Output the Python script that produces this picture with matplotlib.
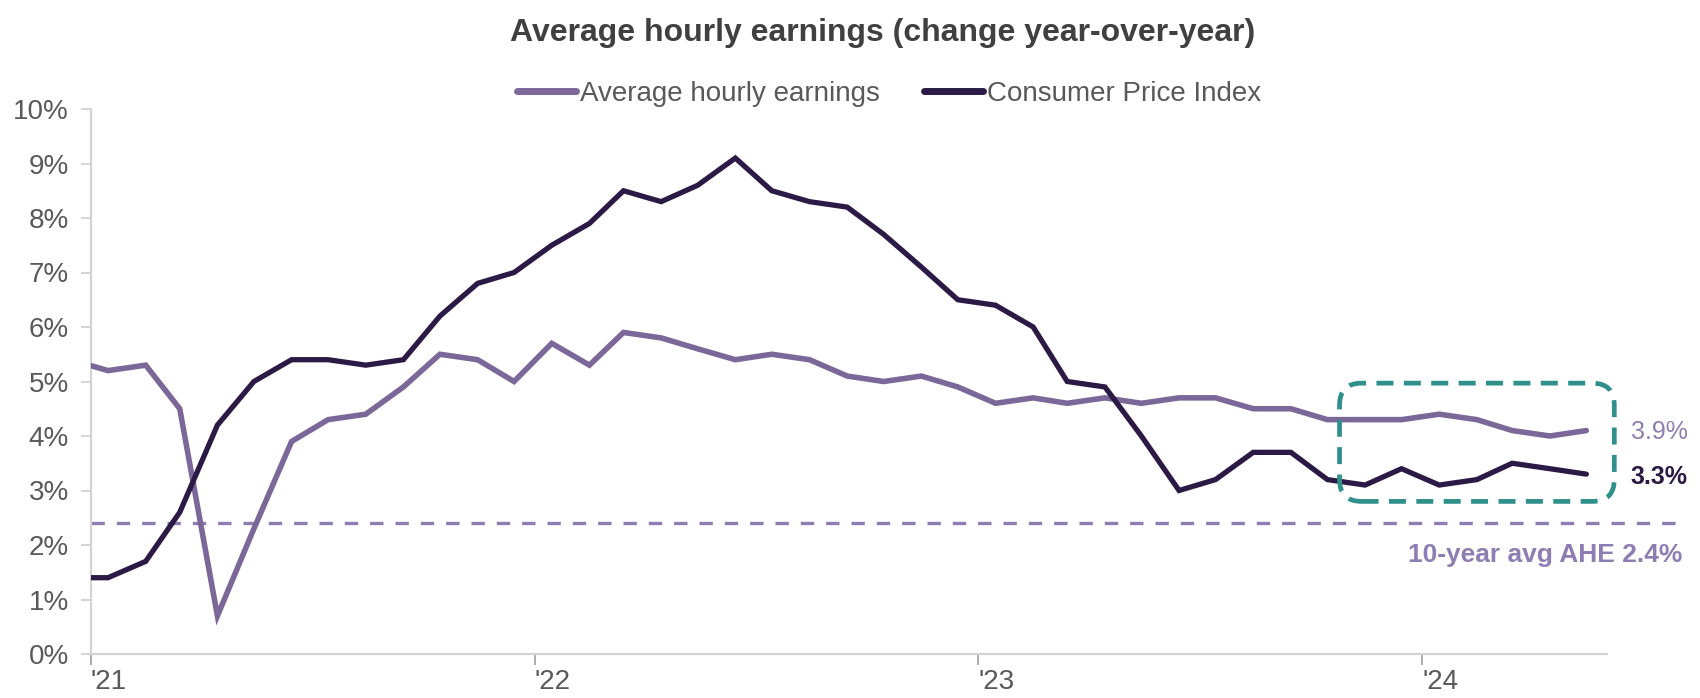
import matplotlib
matplotlib.use("Agg")
import matplotlib.pyplot as plt
import matplotlib.dates as mdates
from matplotlib.patches import FancyBboxPatch
import pandas as pd
import numpy as np

plt.rcParams['font.family'] = ['Liberation Sans', 'DejaVu Sans']

# ---------------- data ----------------
months = pd.period_range('2020-12', '2024-05', freq='M')
ahe = [5.4, 5.2, 5.3, 4.5, 0.7, 2.3, 3.9, 4.3, 4.4, 4.9, 5.5, 5.4, 5.0,
       5.7, 5.3, 5.9, 5.8, 5.6, 5.4, 5.5, 5.4, 5.1, 5.0, 5.1, 4.9,
       4.6, 4.7, 4.6, 4.7, 4.6, 4.7, 4.7, 4.5, 4.5, 4.3, 4.3, 4.3,
       4.4, 4.3, 4.1, 4.0, 4.1]
cpi = [1.4, 1.4, 1.7, 2.6, 4.2, 5.0, 5.4, 5.4, 5.3, 5.4, 6.2, 6.8, 7.0,
       7.5, 7.9, 8.5, 8.3, 8.6, 9.1, 8.5, 8.3, 8.2, 7.7, 7.1, 6.5,
       6.4, 6.0, 5.0, 4.9, 4.0, 3.0, 3.2, 3.7, 3.7, 3.2, 3.1, 3.4,
       3.1, 3.2, 3.5, 3.4, 3.3]
avg_ahe_10y = 2.4
year_ticks = ['2021-01-01', '2022-01-01', '2023-01-01', '2024-01-01']
year_labels = ["'21", "'22", "'23", "'24"]
y_ticks = list(range(0, 11))
ahe_label = "3.9%"
cpi_label = "3.3%"
avg_label = "10-year avg AHE 2.4%"
series_names = ["Average hourly earnings", "Consumer Price Index"]
title = "Average hourly earnings (change year-over-year)"
box_dates = ('2023-10-25', '2024-06-07')
box_vals = (2.8, 4.97)

# ---------------- styling ----------------
c_ahe = '#7B6899'
c_cpi = '#2B1A45'
c_avg = '#8E7DB3'
c_box = '#2F8F8A'
c_tick = '#595959'
c_axis = '#D4D4D4'

x = months.to_timestamp() + pd.Timedelta(days=14)

fig = plt.figure(figsize=(17, 6.98), dpi=100)
ax = fig.add_axes([91/1700, 44/698, (1607-91)/1700, (654-109)/698])

l1, = ax.plot(x, ahe, color=c_ahe, lw=4.0, solid_joinstyle='miter', solid_capstyle='round', zorder=3)
l2, = ax.plot(x, cpi, color=c_cpi, lw=3.8, solid_joinstyle='miter', solid_capstyle='round', zorder=4)

xmin = pd.Timestamp('2021-01-01')
xmax = pd.Timestamp('2024-06-01')
ax.set_xlim(xmin, xmax)
ax.set_ylim(0, 10)

# 10-year avg dashed line (extends past axis)
ax.axhline(avg_ahe_10y, xmin=0, xmax=1.053, color=c_avg, lw=2.4,
           dashes=(4.0, 3.6), clip_on=False, zorder=2)

# axes styling
for s in ['top', 'right']:
    ax.spines[s].set_visible(False)
for s in ['left', 'bottom']:
    ax.spines[s].set_color(c_axis)
    ax.spines[s].set_linewidth(1.6)

ax.set_yticks(y_ticks)
ax.set_yticklabels([f"{v}%" for v in y_ticks])
ax.set_xticks(pd.to_datetime(year_ticks))
ax.set_xticklabels(year_labels, ha='left')
ax.tick_params(axis='y', colors=c_axis, labelcolor=c_tick, labelsize=20,
               length=7, width=1.4, pad=9)
ax.tick_params(axis='x', colors='#AAAAAA', labelcolor=c_tick, labelsize=20,
               length=8, width=1.4, pad=3)
for lab in ax.get_xticklabels():
    lab.set_horizontalalignment('left')

# teal rounded dashed box
fig.canvas.draw()
bx0 = mdates.date2num(pd.Timestamp(box_dates[0]))
bx1 = mdates.date2num(pd.Timestamp(box_dates[1]))
p0 = ax.transData.transform((bx0, box_vals[0]))
p1 = ax.transData.transform((bx1, box_vals[1]))
px_per_x = (p1[0] - p0[0]) / (bx1 - bx0)
px_per_y = (p1[1] - p0[1]) / (box_vals[1] - box_vals[0])
aspect = px_per_x / px_per_y
r_px = 22
box = FancyBboxPatch((bx0, box_vals[0]), bx1 - bx0, box_vals[1] - box_vals[0],
                     boxstyle=f"round,pad=0,rounding_size={r_px/px_per_x}",
                     mutation_aspect=aspect, fill=False, edgecolor=c_box,
                     lw=3.4, linestyle=(0, (3.6, 2.2)), clip_on=False, zorder=5)
ax.add_patch(box)

# end labels
ax.annotate(ahe_label, xy=(x[-1], ahe[-1]), xytext=(32, -1), textcoords='offset points',
            color=c_avg, fontsize=18, ha='left', va='center', annotation_clip=False)
ax.annotate(cpi_label, xy=(x[-1], cpi[-1]), xytext=(32, -2), textcoords='offset points',
            color=c_cpi, fontsize=18, fontweight='bold', ha='left', va='center',
            annotation_clip=False)
ax.annotate(avg_label, xy=(1.0, avg_ahe_10y), xycoords=('axes fraction', 'data'),
            xytext=(54, -23), textcoords='offset points', color=c_avg, fontsize=19,
            fontweight='bold', ha='right', va='center', annotation_clip=False)

# title and legend
fig.text(0.519, 0.953, title, ha='center', va='center', fontsize=23,
         fontweight='bold', color='#404040')
leg = fig.legend([l1, l2], series_names, loc='center', bbox_to_anchor=(0.523, 0.866),
                 ncol=2, frameon=False, fontsize=20, handlelength=2.1,
                 handletextpad=0.15, columnspacing=1.6)
for t in leg.get_texts():
    t.set_color(c_tick)
for h in leg.legend_handles:
    h.set_linewidth(5)
    h.set_solid_capstyle('round')

fig.savefig('out.png', dpi=100)
